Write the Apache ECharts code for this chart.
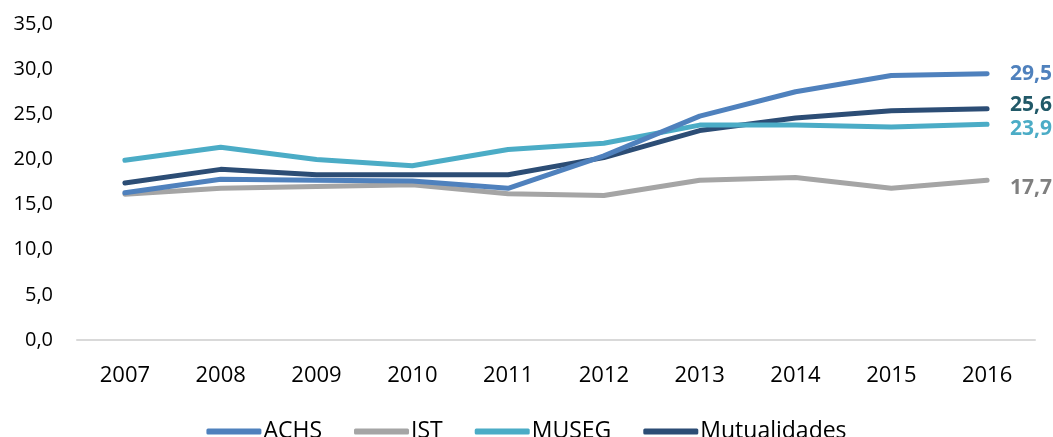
<!DOCTYPE html>
<html>
<head>
<meta charset="utf-8">
<script src="https://cdn.jsdelivr.net/npm/echarts@6/dist/echarts.min.js"></script>
<style>
  html, body { margin: 0; padding: 0; background: #fff; }
  #chart { width: 1053px; height: 437px; }
</style>
</head>
<body>
<div id="chart"></div>
<script>
// años
const years = ['2007', '2008', '2009', '2010', '2011', '2012', '2013', '2014', '2015', '2016'];

const achs = [16.3, 17.8, 17.7, 17.6, 16.8, 20.4, 24.8, 27.5, 29.3, 29.5];
const ist = [16.15, 16.8, 17.0, 17.2, 16.2, 16.0, 17.7, 18.0, 16.8, 17.7];
const museg = [19.9, 21.35, 20.0, 19.3, 21.1, 21.8, 23.8, 23.8, 23.6, 23.9];
const mutualidades = [17.4, 18.9, 18.3, 18.3, 18.3, 20.2, 23.2, 24.6, 25.4, 25.6];

const names = ['ACHS', 'IST', 'MUSEG', 'Mutualidades'];
const colors = ['#4F81BD', '#A5A5A5', '#4BACC6', '#2C4D75'];
const labelColors = ['#4F81BD', '#7F7F7F', '#4BACC6', '#215968'];
const labelOffsets = [[0, 0], [0, 8], [0, 5], [0, -4]];

const fontFamily = '"Open Sans", "Noto Sans", sans-serif';
const fmt = v => v.toFixed(1).replace('.', ',');

const chart = echarts.init(document.getElementById('chart'));

const makeSeries = (name, values, i) => ({
  name: name,
  type: 'line',
  data: values,
  showSymbol: false,
  symbol: 'none',
  lineStyle: { width: 5, color: colors[i], cap: 'round', join: 'round' },
  itemStyle: { color: colors[i] },
  endLabel: {
    show: true,
    distance: 23,
    offset: labelOffsets[i],
    color: labelColors[i],
    fontWeight: 'bold',
    fontSize: 21,
    fontFamily: fontFamily,
    formatter: p => fmt(p.value),
  },
  emphasis: { disabled: true },
  z: 10 - i,
});

const option = {
  animation: false,
  color: colors,
  grid: { left: 77, right: 18, top: 24, bottom: 97, containLabel: false },
  legend: {
    data: names,
    top: 415,
    left: 'center',
    icon: 'roundRect',
    itemWidth: 55,
    itemHeight: 6,
    itemGap: 32,
    textStyle: { fontSize: 23, color: '#000', fontFamily: fontFamily, padding: [0, 0, 0, -3] },
  },
  xAxis: {
    type: 'category',
    data: years,
    boundaryGap: true,
    axisLine: { show: true, lineStyle: { color: '#D9D9D9', width: 2 } },
    axisTick: { show: false },
    axisLabel: { fontSize: 22, color: '#000', fontFamily: fontFamily, margin: 25 },
  },
  yAxis: {
    type: 'value',
    min: 0,
    max: 35,
    interval: 5,
    axisLine: { show: false },
    axisTick: { show: false },
    splitLine: { show: false },
    axisLabel: {
      fontSize: 20,
      color: '#000',
      fontFamily: fontFamily,
      margin: 24,
      formatter: v => fmt(v),
    },
  },
  series: [
    makeSeries(names[0], achs, 0),
    makeSeries(names[1], ist, 1),
    makeSeries(names[2], museg, 2),
    makeSeries(names[3], mutualidades, 3),
  ],
};

chart.setOption(option);
</script>
</body>
</html>
